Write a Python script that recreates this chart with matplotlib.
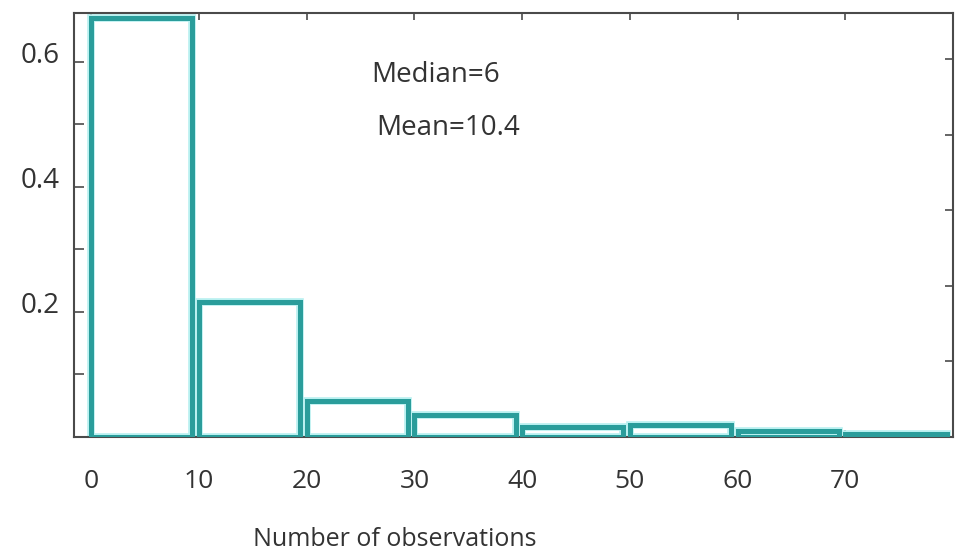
import matplotlib
matplotlib.use("Agg")
import matplotlib.pyplot as plt
import matplotlib.transforms as mtransforms

# histogram bins (left edges) and relative frequencies
bin_left = [0, 10, 20, 30, 40, 50, 60, 70]
freq = [0.670, 0.216, 0.058, 0.035, 0.016, 0.019, 0.010, 0.005]
x_ticks = [0, 10, 20, 30, 40, 50, 60, 70]
y_ticks = [0.2, 0.4, 0.6]
y_minor = [0.1, 0.3, 0.5]
median_txt = "Median=6"
mean_txt = "Mean=10.4"

plt.rcParams['font.family'] = ['Open Sans', 'DejaVu Sans']

teal = '#2a9d9b'
grey = '#4a4a4a'
txt = '#333333'

fig = plt.figure(figsize=(9.61, 5.53), dpi=100)
ax = fig.add_axes([0.077, 0.2098, 0.9147, 0.7667])

# light halo then teal outline, like the scanned figure
ax.bar(bin_left, freq, width=9.4, align='edge', fill=False,
       edgecolor='#b8f0f0', linewidth=5.5, zorder=2)
ax.bar(bin_left, freq, width=9.4, align='edge', fill=False,
       edgecolor=teal, linewidth=3.6, zorder=3)

ax.set_xlim(-1.6, 80)
ax.set_ylim(0, 0.678)

ax.set_xticks(x_ticks)
ax.set_xticklabels([str(v) for v in x_ticks])
ax.set_yticks(y_ticks)
ax.set_yticklabels([f'{v:.1f}' for v in y_ticks])
ax.set_yticks(y_minor, minor=True)

ax.tick_params(axis='x', direction='in', length=5, width=1.2, color=grey,
               top=True, labelsize=19, labelcolor=txt, pad=23)
ax.tick_params(axis='y', which='both', direction='in', length=7, width=1.2,
               color=grey, labelsize=20, labelcolor=txt, pad=10)

# y labels sit a little above their ticks in the original
shift = mtransforms.ScaledTranslation(0, 7 / 72, fig.dpi_scale_trans)
for lab in ax.get_yticklabels():
    lab.set_transform(lab.get_transform() + shift)

for s in ax.spines.values():
    s.set_color(grey)
    s.set_linewidth(1.5)

# right-hand axis of the pasted figure has its own tick spacing
ax2 = ax.twinx()
ax2.set_ylim(0, 5.61)
ax2.set_yticks([1, 2, 3, 4, 5])
ax2.set_yticklabels([])
ax2.tick_params(axis='y', direction='in', length=6, width=1.2, color=grey)
for s in ax2.spines.values():
    s.set_visible(False)

ax.text(26.0, 0.579, median_txt, fontsize=20, color=txt, va='center')
ax.text(26.5, 0.494, mean_txt, fontsize=20, color=txt, va='center')

fig.text(395 / 961, 1 - 539 / 553, 'Number of observations', fontsize=18,
         color=txt, ha='center', va='center')

fig.savefig('out.png', dpi=100)
